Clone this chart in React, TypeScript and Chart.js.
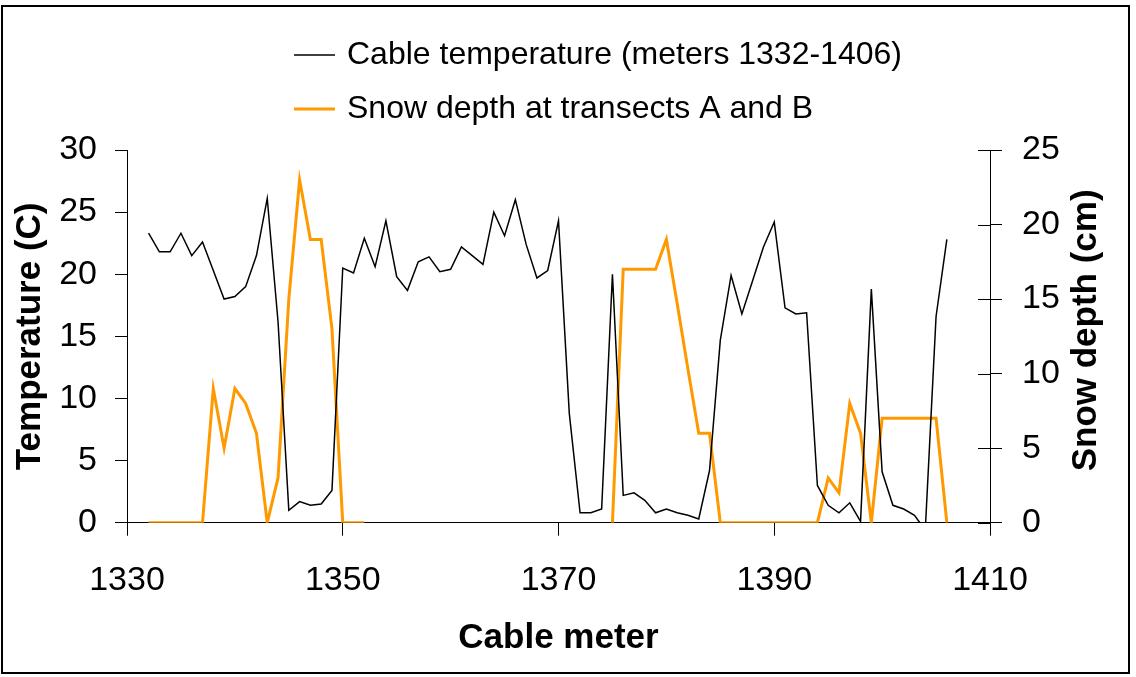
import React, { useEffect, useRef } from "react";
import { Chart, registerables } from "chart.js";

Chart.register(...registerables);

const meters = [
  1332, 1333, 1334, 1335, 1336, 1337, 1338, 1339, 1340, 1341, 1342, 1343, 1344, 1345, 1346,
  1347, 1348, 1349, 1350, 1351, 1352, 1353, 1354, 1355, 1356, 1357, 1358, 1359, 1360, 1361,
  1362, 1363, 1364, 1365, 1366, 1367, 1368, 1369, 1370, 1371, 1372, 1373, 1374, 1375, 1376,
  1377, 1378, 1379, 1380, 1381, 1382, 1383, 1384, 1385, 1386, 1387, 1388, 1389, 1390, 1391,
  1392, 1393, 1394, 1395, 1396, 1397, 1398, 1399, 1400, 1401, 1402, 1403, 1404, 1405, 1406,
];

const cableTemperature = [
  23.3, 21.8, 21.8, 23.3, 21.5, 22.6, 20.3, 18.0, 18.2, 19.0, 21.5, 26.1, 16.2, 1.0, 1.7,
  1.4, 1.5, 2.6, 20.5, 20.1, 22.9, 20.6, 24.3, 19.8, 18.7, 21.0, 21.4, 20.2, 20.4, 22.2,
  21.5, 20.8, 25.0, 23.1, 26.0, 22.4, 19.7, 20.3, 24.3, 8.8, 0.8, 0.8, 1.1, 20.0, 2.2,
  2.4, 1.8, 0.8, 1.1, 0.8, 0.6, 0.3, 4.2, 14.7, 19.9, 16.8, 19.5, 22.2, 24.2, 17.3,
  16.8, 16.9, 3.0, 1.4, 0.8, 1.6, 0.1, 18.8, 4.1, 1.4, 1.1, 0.6, -0.6, 16.6, 22.8,
];

const snowDepth = [
  0, 0, 0, 0, 0, 0, 9, 5, 9, 8, 6, 0, 3, 15, 23,
  19, 19, 13, 0, 0, 0, null, null, null, null, null, null, null, null, null,
  null, null, null, null, null, null, null, null, null, null, null, null, null, 0, 17,
  17, 17, 17, 19, 14.7, 10.3, 6, 6, 0, 0, 0, 0, 0, 0, 0,
  0, 0, 0, 3, 2, 8, 6, 0, 7, 7, 7, 7, 7, 7, 0,
];

const xTicks = [1330, 1350, 1370, 1390, 1410];
const temperatureTicks = [0, 5, 10, 15, 20, 25, 30];
const snowTicks = [0, 5, 10, 15, 20, 25];

const seriesLabels = ["Cable temperature (meters 1332-1406)", "Snow depth at transects A and B"];
const axisTitles = { x: "Cable meter", y: "Temperature (C)", y1: "Snow depth (cm)" };

const FONT = "'Liberation Sans', Arial, sans-serif";

export default function App() {
  const ref = useRef<HTMLCanvasElement>(null);

  useEffect(() => {
    const canvas = ref.current;
    if (!canvas) return;

    const extras = {
      id: "extras",
      beforeDraw(chart: any) {
        const ctx = chart.ctx;
        ctx.save();
        ctx.fillStyle = "#ffffff";
        ctx.fillRect(0, 0, chart.width, chart.height);
        ctx.restore();
      },
      afterDraw(chart: any) {
        const ctx = chart.ctx;
        const area = chart.chartArea;
        ctx.save();
        // inner ticks of right axis
        const y1 = chart.scales.y1;
        ctx.strokeStyle = "#000";
        ctx.lineWidth = 1;
        y1.ticks.forEach((t: any) => {
          const py = Math.round(y1.getPixelForValue(t.value)) + 0.5;
          ctx.beginPath();
          ctx.moveTo(area.right - 12, py);
          ctx.lineTo(area.right, py);
          ctx.stroke();
        });
        // right axis title (reads bottom to top)
        ctx.fillStyle = "#000";
        ctx.font = `bold 35px ${FONT}`;
        ctx.textAlign = "center";
        ctx.textBaseline = "middle";
        ctx.translate(1086, (area.top + area.bottom) / 2 - 6);
        ctx.rotate(-Math.PI / 2);
        ctx.fillText(axisTitles.y1, 0, 0);
        ctx.restore();

        // legend
        ctx.save();
        const rows = [55, 109];
        chart.data.datasets.forEach((ds: any, i: number) => {
          const y = rows[i];
          ctx.strokeStyle = ds.borderColor;
          ctx.lineWidth = ds.borderWidth;
          ctx.beginPath();
          ctx.moveTo(294, y);
          ctx.lineTo(335, y);
          ctx.stroke();
          ctx.fillStyle = "#000";
          ctx.font = `32px ${FONT}`;
          ctx.textAlign = "left";
          ctx.textBaseline = "middle";
          ctx.fillText(ds.label, 347, y);
        });
        // outer frame
        ctx.strokeStyle = "#000";
        ctx.lineWidth = 2;
        ctx.strokeRect(2, 6, 1127, 667);
        ctx.restore();
      },
    };

    const tickFont = { family: FONT, size: 34 };
    const titleFont = { family: FONT, size: 35, weight: "bold" as const };
    const plain = (v: any) => String(v);

    const chart = new Chart(canvas, {
      type: "line",
      data: {
        datasets: [
          {
            label: seriesLabels[0],
            data: meters.map((m, i) => ({ x: m, y: cableTemperature[i] })),
            borderColor: "#000000",
            borderWidth: 1.5,
            pointRadius: 0,
            tension: 0,
            fill: false,
            yAxisID: "y",
          },
          {
            label: seriesLabels[1],
            data: meters.map((m, i) => ({ x: m, y: snowDepth[i] })),
            borderColor: "#FF9900",
            borderWidth: 3,
            pointRadius: 0,
            tension: 0,
            fill: false,
            spanGaps: false,
            yAxisID: "y1",
          },
        ],
      },
      options: {
        responsive: false,
        animation: false,
        devicePixelRatio: 1,
        layout: { padding: { top: 150, left: 0, right: 0, bottom: 0 } },
        plugins: { legend: { display: false }, tooltip: { enabled: false } },
        scales: {
          x: {
            type: "linear",
            min: 1330,
            max: 1410,
            afterBuildTicks: (s: any) => {
              s.ticks = xTicks.map((v) => ({ value: v }));
            },
            afterFit: (s: any) => {
              s.height = 154.3;
            },
            ticks: { font: tickFont, color: "#000", padding: 25, maxRotation: 0, autoSkip: false, callback: plain },
            grid: { drawOnChartArea: false, tickLength: 13, color: "#000" },
            border: { color: "#000", width: 1 },
            title: {
              display: true,
              text: axisTitles.x,
              font: titleFont,
              color: "#000",
              padding: { top: 0, bottom: 18 },
            },
          },
          y: {
            position: "left",
            min: 0,
            max: 30,
            afterBuildTicks: (s: any) => {
              s.ticks = temperatureTicks.map((v) => ({ value: v }));
            },
            afterFit: (s: any) => {
              s.width = 127;
            },
            ticks: { font: tickFont, color: "#000", padding: 18, callback: plain },
            grid: { drawOnChartArea: false, tickLength: 12, color: "#000" },
            border: { color: "#000", width: 1 },
            title: {
              display: true,
              text: axisTitles.y,
              font: titleFont,
              color: "#000",
              padding: { top: 9, bottom: 0 },
            },
          },
          y1: {
            position: "right",
            min: 0,
            max: 25,
            afterBuildTicks: (s: any) => {
              s.ticks = snowTicks.map((v) => ({ value: v }));
            },
            afterFit: (s: any) => {
              s.width = 146;
            },
            ticks: { font: tickFont, color: "#000", padding: 20, callback: plain },
            grid: { drawOnChartArea: false, tickLength: 12, color: "#000" },
            border: { color: "#000", width: 1 },
          },
        },
      },
      plugins: [extras],
    });

    return () => chart.destroy();
  }, []);

  return (
    <div style={{ position: "absolute", left: 0, top: 0, width: 1136, height: 677, background: "#fff" }}>
      <canvas ref={ref} width={1136} height={677} style={{ display: "block" }} />
    </div>
  );
}
